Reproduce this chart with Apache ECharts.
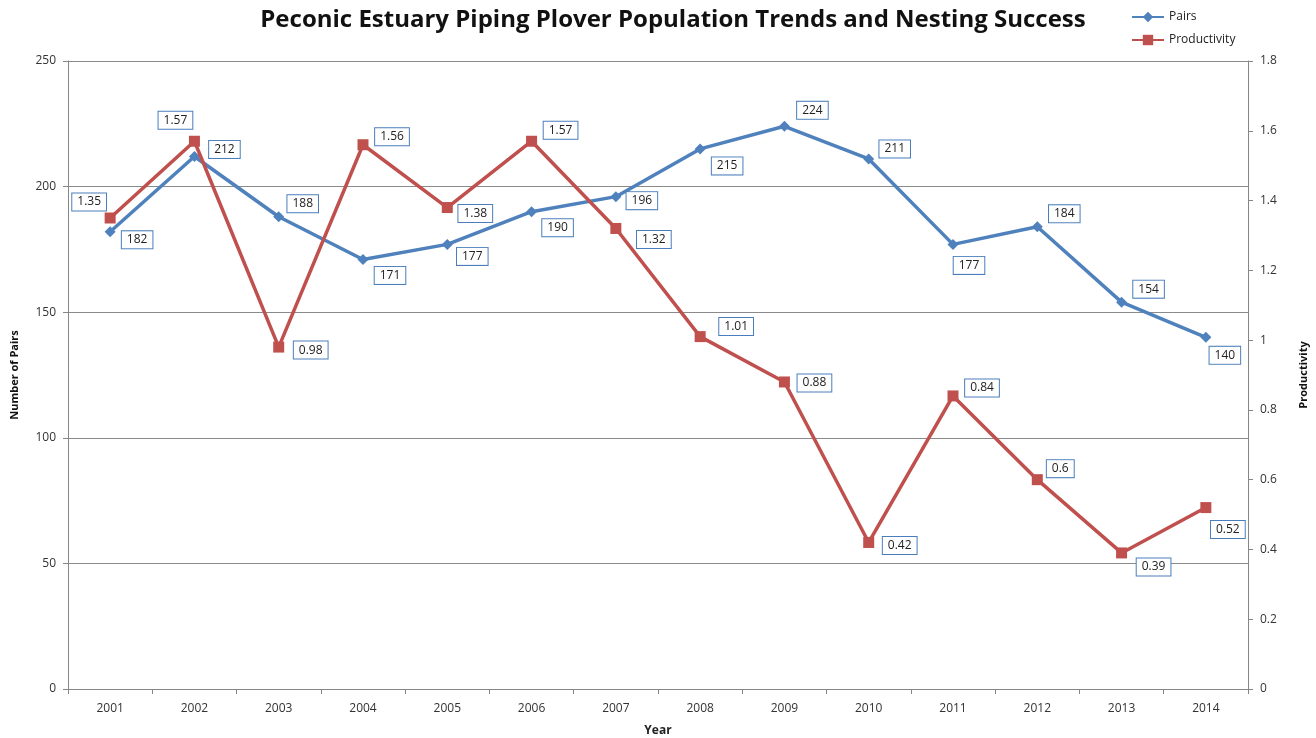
<!DOCTYPE html>
<html><head><meta charset="utf-8">
<script src="https://cdn.jsdelivr.net/npm/echarts@6/dist/echarts.min.js"></script>
<style>html,body{margin:0;padding:0;background:#fff}#c{width:1316px;height:738px}</style>
</head><body><div id="c"></div>
<script>
const years = ['2001','2002','2003','2004','2005','2006','2007','2008','2009','2010','2011','2012','2013','2014'];
const pairs = [182,212,188,171,177,190,196,215,224,211,177,184,154,140];
const productivity = [1.35,1.57,0.98,1.56,1.38,1.57,1.32,1.01,0.88,0.42,0.84,0.6,0.39,0.52];
const pairsLabelOffsets = [[27,8],[30,-7],[24,-13],[27,16],[25,12],[26,16],[26,4],[27,17],[28,-16],[26,-10],[16,21],[27,-13],[27,-13],[19,18]];
const prodLabelOffsets = [[-21,-16],[-19,-21],[32,3],[29,-8],[28,6],[29,-11],[38,11],[36,-10],[30,1],[31,3],[29,-8],[23,-11],[32,14],[22,22]];

const font = 'Open Sans';
const labelBox = {
  show: true, position: 'inside', color: '#222', fontSize: 12, fontFamily: font,
  backgroundColor: '#fff', borderColor: '#4A7EBB', borderWidth: 1, padding: [3,5,2,5]
};
function mk(vals, offs){
  return vals.map((v,i)=>({value:v, label:Object.assign({}, labelBox, {offset: offs[i]})}));
}
const chart = echarts.init(document.getElementById('c'), null, {renderer:'canvas'});
chart.setOption({
  animation:false,
  backgroundColor:'#fff',
  title:{text:'Peconic Estuary Piping Plover Population Trends and Nesting Success', left:668, top:3, textAlign:'center',
    textStyle:{fontFamily:font, fontSize:24, fontWeight:'bold', color:'#111'}},
  legend:{orient:'vertical', left:1126, top:6, itemGap:11, itemWidth:32, itemHeight:13,
    textStyle:{fontFamily:font, fontSize:12, color:'#222'},
    data:['Pairs','Productivity']},
  grid:{left:68, right:68, top:61, bottom:49, outerBoundsMode:'none', containLabel:false},
  xAxis:{type:'category', data:years, boundaryGap:true, name:'Year', nameLocation:'middle', nameGap:36,
    nameTextStyle:{fontFamily:font, fontSize:12, fontWeight:'bold', color:'#222'},
    axisLine:{lineStyle:{color:'#868686'}}, axisTick:{show:true, alignWithLabel:false, length:5, lineStyle:{color:'#868686'}},
    axisLabel:{fontFamily:font, fontSize:12, color:'#333', margin:14}},
  yAxis:[
    {type:'value', min:0, max:250, interval:50, name:'Number of Pairs', nameLocation:'middle', nameGap:48, nameRotate:90,
     nameTextStyle:{fontFamily:font, fontSize:11, fontWeight:'bold', color:'#111'},
     axisLine:{show:true, lineStyle:{color:'#868686'}}, axisTick:{show:true, length:5, lineStyle:{color:'#868686'}},
     splitLine:{show:true, lineStyle:{color:'#8a8a8a'}},
     axisLabel:{fontFamily:font, fontSize:12, color:'#333', margin:12}},
    {type:'value', min:0, max:1.8, interval:0.2, name:'Productivity', nameLocation:'middle', nameGap:50, nameRotate:90,
     nameTextStyle:{fontFamily:font, fontSize:11, fontWeight:'bold', color:'#111'},
     axisLine:{show:true, lineStyle:{color:'#868686'}}, axisTick:{show:true, length:5, lineStyle:{color:'#868686'}},
     splitLine:{show:false},
     axisLabel:{fontFamily:font, fontSize:12, color:'#333', margin:12, formatter:v=>String(+v.toFixed(1))}}
  ],
  series:[
    {name:'Pairs', type:'line', yAxisIndex:0, data:mk(pairs, pairsLabelOffsets), symbol:'diamond', symbolSize:11,
     itemStyle:{color:'#4F81BD'}, lineStyle:{color:'#4F81BD', width:3.5}, z:3},
    {name:'Productivity', type:'line', yAxisIndex:1, data:mk(productivity, prodLabelOffsets), symbol:'rect', symbolSize:11,
     itemStyle:{color:'#C0504D'}, lineStyle:{color:'#C0504D', width:3.5}, z:4}
  ]
});
</script></body></html>
